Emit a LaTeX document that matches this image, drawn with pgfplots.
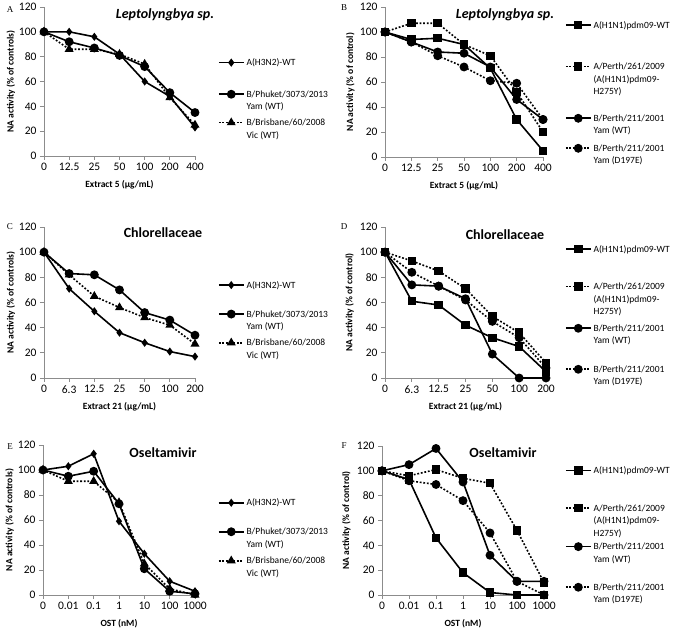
\documentclass[border=0pt]{standalone}
\usepackage{fontspec}
\setmainfont{Carlito}
\newfontfamily\serifpanel{Liberation Serif}
\usepackage{pgfplots}
\pgfplotsset{compat=1.18}

\pgfplotsset{
  panel/.style={
    scale only axis, anchor=south west,
    xmin=0, xmax=6, ymin=0, ymax=120,
    xtick={0,...,6}, ytick={0,20,...,120},
    axis lines=left, axis line style={-, black!45, line width=0.8pt},
    tick style={black!45, line width=0.8pt}, tick align=outside, major tick length=4pt,
    ticklabel style={font=\fontsize{11.5}{13}\selectfont},
    /pgf/number format/assume math mode=true,
    label style={font=\bfseries\fontsize{9.5}{11}\selectfont},
    ylabel style={at={(axis description cs:-0.22,0.5)}, anchor=center},
    xlabel style={at={(axis description cs:0.5,-0.19)}, anchor=center},
    clip=false,
    legend cell align=left,
    legend style={draw=none, fill=none, anchor=north west, inner sep=0pt,
      outer sep=0pt, row sep=0pt, column sep=2pt,
      font=\fontsize{9.5}{12.5}\selectfont, nodes={inner sep=0pt, text depth=}},
    legend image code/.code={\draw[mark repeat=2, mark phase=2, ##1]
      plot coordinates {(0pt,0pt) (12.5pt,0pt) (25pt,0pt)};},
  },
  sol/.style={black, line width=1.6pt, solid},
  dot/.style={black, line width=1.6pt, dash pattern=on 1.8pt off 1.8pt},
  mdia/.style={mark=diamond*, mark size=2.8pt, mark options={solid}},
  mcir/.style={mark=*, mark size=3.6pt, mark options={solid}},
  msq/.style={mark=square*, mark size=3.4pt, mark options={solid}},
  mtri/.style={mark=triangle*, mark size=3.6pt, mark options={solid}},
}
% legend text: box centred on the first line, extra room below it
\newcommand{\ent}[2]{\raisebox{0pt}[\dimexpr#2pt+6pt\relax][#2pt]{\parbox[t]{95pt}{\raggedright #1}}}
\newcommand{\ttl}{\bfseries\fontsize{14}{16}\selectfont}

\begin{document}
\begin{tikzpicture}
\path[use as bounding box] (0,0) rectangle (674pt,631pt);

% ---------- A ----------
\begin{axis}[panel, at={(44pt,475pt)}, width=151pt, height=149pt,
  xticklabels={0,12.5,25,50,100,200,400},
  xlabel={Extract 5 (µg/mL)}, ylabel={NA activity (\% of controls)},
  legend style={at={(1.152,0.687)}}]
\addplot[sol, mdia] coordinates {(0,100) (1,100) (2,96) (3,82) (4,60) (5,48) (6,23)};
\addlegendentry{\ent{A(H3N2)-WT}{6}}
\addplot[sol, mcir] coordinates {(0,100) (1,92) (2,87) (3,81) (4,72) (5,51) (6,35)};
\addlegendentry{\ent{B/Phuket/3073/2013\\Yam (WT)}{19.6}}
\addplot[dot, mtri] coordinates {(0,100) (1,86) (2,86) (3,82) (4,74) (5,47) (6,25)};
\addlegendentry{\ent{B/Brisbane/60/2008\\Vic (WT)}{2.8}}
\end{axis}

% ---------- B ----------
\begin{axis}[panel, at={(385pt,474pt)}, width=158pt, height=150pt,
  xticklabels={0,12.5,25,50,100,200,400},
  xlabel={Extract 5 (µg/mL)}, ylabel={NA activity (\% of control)},
  legend style={at={(1.139,0.938)}}]
\addplot[sol, msq] coordinates {(0,100) (1,94) (2,95) (3,90) (4,71) (5,30) (6,5)};
\addlegendentry{\ent{A(H1N1)pdm09-WT}{6}}
\addplot[dot, msq] coordinates {(0,100) (1,107) (2,107) (3,90) (4,81) (5,52) (6,20)};
\addlegendentry{\ent{A/Perth/261/2009\\(A(H1N1)pdm09-\\H275Y)}{29.4}}
\addplot[sol, mcir] coordinates {(0,100) (1,92) (2,84) (3,83) (4,72) (5,46) (6,30)};
\addlegendentry{\ent{B/Perth/211/2001\\Yam (WT)}{16.2}}
\addplot[dot, mcir] coordinates {(0,100) (1,92) (2,81) (3,72) (4,61) (5,59) (6,30)};
\addlegendentry{\ent{B/Perth/211/2001\\Yam (D197E)}{7.8}}
\end{axis}

% ---------- C ----------
\begin{axis}[panel, at={(44pt,253pt)}, width=151pt, height=151pt,
  xticklabels={0,6.3,12.5,25,50,100,200},
  xlabel={Extract 21 (µg/mL)}, ylabel={NA activity (\% of controls)},
  legend style={at={(1.152,0.675)}}]
\addplot[sol, mdia] coordinates {(0,100) (1,71) (2,53) (3,36) (4,28) (5,21) (6,17)};
\addlegendentry{\ent{A(H3N2)-WT}{6}}
\addplot[sol, mcir] coordinates {(0,100) (1,83) (2,82) (3,70) (4,52) (5,46) (6,34)};
\addlegendentry{\ent{B/Phuket/3073/2013\\Yam (WT)}{17}}
\addplot[dot, mtri] coordinates {(0,100) (1,82) (2,65) (3,56) (4,48) (5,42) (6,27)};
\addlegendentry{\ent{B/Brisbane/60/2008\\Vic (WT)}{5.7}}
\end{axis}

% ---------- D ----------
\begin{axis}[panel, at={(385pt,253pt)}, width=161pt, height=151pt,
  xticklabels={0,6.3,12.5,25,50,100,200},
  xlabel={Extract 21 (µg/mL)}, ylabel={NA activity (\% of control)},
  legend style={at={(1.118,0.912)}}]
\addplot[sol, msq] coordinates {(0,100) (1,61) (2,58) (3,42) (4,32) (5,25) (6,5)};
\addlegendentry{\ent{A(H1N1)pdm09-WT}{6}}
\addplot[dot, msq] coordinates {(0,100) (1,93) (2,85) (3,71) (4,49) (5,36) (6,12)};
\addlegendentry{\ent{A/Perth/261/2009\\(A(H1N1)pdm09-\\H275Y)}{25.4}}
\addplot[sol, mcir] coordinates {(0,100) (1,74) (2,73) (3,63) (4,19) (5,0) (6,0)};
\addlegendentry{\ent{B/Perth/211/2001\\Yam (WT)}{10.2}}
\addplot[dot, mcir] coordinates {(0,100) (1,84) (2,73) (3,62) (4,45) (5,32) (6,8)};
\addlegendentry{\ent{B/Perth/211/2001\\Yam (D197E)}{24.8}}
\end{axis}

% ---------- E ----------
\begin{axis}[panel, at={(43pt,36pt)}, width=152pt, height=150pt,
  xticklabels={0,0.01,0.1,1,10,100,1000},
  xlabel={OST (nM)}, ylabel={NA activity (\% of controls)},
  legend style={at={(1.151,0.675)}}]
\addplot[sol, mdia] coordinates {(0,100) (1,103) (2,113) (3,59) (4,33) (5,11) (6,3)};
\addlegendentry{\ent{A(H3N2)-WT}{6}}
\addplot[sol, mcir] coordinates {(0,100) (1,95) (2,99) (3,73) (4,21) (5,3) (6,1)};
\addlegendentry{\ent{B/Phuket/3073/2013\\Yam (WT)}{17}}
\addplot[dot, mtri] coordinates {(0,100) (1,91) (2,91) (3,74) (4,25) (5,5) (6,0)};
\addlegendentry{\ent{B/Brisbane/60/2008\\Vic (WT)}{6}}
\end{axis}

% ---------- F ----------
\begin{axis}[panel, at={(382pt,36pt)}, width=162pt, height=149pt,
  xticklabels={0,0.01,0.1,1,10,100,1000},
  xlabel={OST (nM)}, ylabel={NA activity (\% of control)},
  legend style={at={(1.13,0.895)}}]
\addplot[sol, msq] coordinates {(0,100) (1,93) (2,46) (3,18) (4,2) (5,0) (6,0)};
\addlegendentry{\ent{A(H1N1)pdm09-WT}{6}}
\addplot[dot, msq] coordinates {(0,100) (1,96) (2,101) (3,94) (4,90) (5,52) (6,10)};
\addlegendentry{\ent{A/Perth/261/2009\\(A(H1N1)pdm09-\\H275Y)}{25.6}}
\addplot[sol, mcir] coordinates {(0,100) (1,105) (2,118) (3,91) (4,32) (5,11) (6,11)};
\addlegendentry{\ent{B/Perth/211/2001\\Yam (WT)}{6.8}}
\addplot[dot, mcir] coordinates {(0,100) (1,92) (2,89) (3,76) (4,50) (5,11) (6,0)};
\addlegendentry{\ent{B/Perth/211/2001\\Yam (D197E)}{27.8}}
\end{axis}

% titles and panel letters
\node[font=\ttl\itshape] at (165pt,616pt) {Leptolyngbya sp.};
\node[font=\ttl\itshape] at (505pt,616pt) {Leptolyngbya sp.};
\node[font=\ttl] at (163pt,398pt) {Chlorellaceae};
\node[font=\ttl] at (505pt,396pt) {Chlorellaceae};
\node[font=\ttl] at (163pt,178pt) {Oseltamivir};
\node[font=\ttl] at (503pt,178pt) {Oseltamivir};
\node[font=\serifpanel\fontsize{9}{10}\selectfont] at (10pt,621pt) {A};
\node[font=\serifpanel\fontsize{9}{10}\selectfont] at (344pt,623pt) {B};
\node[font=\serifpanel\fontsize{9}{10}\selectfont] at (10pt,404pt) {C};
\node[font=\serifpanel\fontsize{9}{10}\selectfont] at (344pt,404pt) {D};
\node[font=\serifpanel\fontsize{9}{10}\selectfont] at (10pt,184pt) {E};
\node[font=\serifpanel\fontsize{9}{10}\selectfont] at (344pt,185pt) {F};
\end{tikzpicture}
\end{document}
